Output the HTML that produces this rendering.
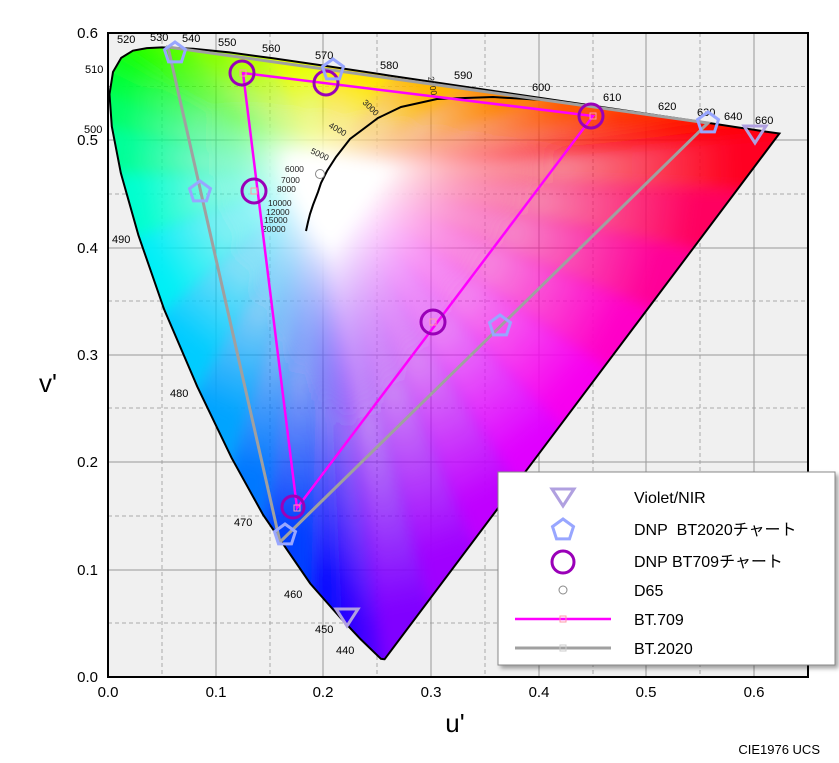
<!DOCTYPE html>
<html><head><meta charset="utf-8"><style>
body{margin:0;background:#fff;}
svg{display:block;font-family:"Liberation Sans","Noto Sans CJK JP",sans-serif;}
</style></head><body>
<svg id="s" width="839" height="763" viewBox="0 0 839 763" xmlns="http://www.w3.org/2000/svg">
<defs>
<clipPath id="lc"><path id="lp" d=""/></clipPath>
<filter id="bl" x="-20%" y="-20%" width="140%" height="140%"><feGaussianBlur stdDeviation="7"/></filter>
<filter id="sh" x="-10%" y="-10%" width="130%" height="130%"><feDropShadow dx="3" dy="3" stdDeviation="2" flood-color="#000" flood-opacity="0.35"/></filter>
</defs>
<rect x="108" y="33" width="700" height="644" fill="#f0f0f0"/>
<g stroke="#aaa" stroke-width="1" stroke-dasharray="4,3">
<line x1="162" y1="33" x2="162" y2="677"/><line x1="270" y1="33" x2="270" y2="677"/><line x1="377" y1="33" x2="377" y2="677"/><line x1="485" y1="33" x2="485" y2="677"/><line x1="593" y1="33" x2="593" y2="677"/><line x1="700" y1="33" x2="700" y2="677"/>
<line x1="108" y1="86.5" x2="808" y2="86.5"/><line x1="108" y1="194" x2="808" y2="194"/><line x1="108" y1="301" x2="808" y2="301"/><line x1="108" y1="408" x2="808" y2="408"/><line x1="108" y1="516" x2="808" y2="516"/><line x1="108" y1="623" x2="808" y2="623"/>
</g>
<g stroke="#999" stroke-width="1">
<line x1="216" y1="33" x2="216" y2="677"/><line x1="323" y1="33" x2="323" y2="677"/><line x1="431" y1="33" x2="431" y2="677"/><line x1="539" y1="33" x2="539" y2="677"/><line x1="646" y1="33" x2="646" y2="677"/><line x1="754" y1="33" x2="754" y2="677"/>
<line x1="108" y1="140" x2="808" y2="140"/><line x1="108" y1="248" x2="808" y2="248"/><line x1="108" y1="355" x2="808" y2="355"/><line x1="108" y1="462" x2="808" y2="462"/><line x1="108" y1="570" x2="808" y2="570"/>
</g>
<g clip-path="url(#lc)"><g id="fan" filter="url(#bl)"></g></g>
<path id="lo" d="" fill="none" stroke="#000" stroke-width="2"/>
<polyline points="306,231 308,222 310,214 313,205 318,192 321,183 327,171 336,157 350,139 378,118 401,107 437,99 493,97 560,101" fill="none" stroke="#000" stroke-width="2"/>
<circle cx="320" cy="174" r="4.5" fill="#fff" stroke="#888" stroke-width="1"/>
<g font-size="8.5" fill="#222">
<text x="262" y="232">20000</text><text x="264" y="223">15000</text><text x="266" y="215">12000</text><text x="268" y="206">10000</text><text x="277" y="192">8000</text><text x="281" y="183">7000</text><text x="285" y="172">6000</text>
<text x="310" y="153" transform="rotate(25 310 153)">5000</text><text x="328" y="127" transform="rotate(30 328 127)">4000</text><text x="362" y="103" transform="rotate(45 362 103)">3000</text><text x="428" y="77" transform="rotate(80 428 77)">2000</text>
</g>
<g font-size="11" fill="#000">
<text x="117" y="43">520</text><text x="150" y="41">530</text><text x="182" y="42">540</text><text x="218" y="46">550</text><text x="262" y="52">560</text><text x="315" y="59">570</text><text x="380" y="69">580</text><text x="454" y="79">590</text><text x="532" y="91">600</text><text x="603" y="101">610</text><text x="658" y="110">620</text><text x="697" y="116">630</text><text x="724" y="120">640</text><text x="755" y="124">660</text>
<text x="85" y="73">510</text><text x="84" y="133">500</text><text x="112" y="243">490</text><text x="170" y="397">480</text><text x="234" y="526">470</text><text x="284" y="598">460</text><text x="315" y="633">450</text><text x="336" y="654">440</text>
</g>
<polygon points="708,123 168,47 280,542" fill="none" stroke="#a0a0a0" stroke-width="3"/>
<polygon points="593,116 243,73 297,508" fill="none" stroke="#ff00ff" stroke-width="2.5"/>
<g fill="none" stroke="#f9a" stroke-width="1"><rect x="590" y="113" width="6" height="6"/><rect x="240" y="70" width="6" height="6"/><rect x="294" y="505" width="6" height="6"/><rect x="430" y="319" width="6" height="6"/><rect x="251" y="188" width="6" height="6"/></g>
<g fill="none" stroke="#9a00b8" stroke-width="3">
<circle cx="242" cy="73" r="12"/><circle cx="326" cy="83" r="12"/><circle cx="254" cy="191" r="12"/><circle cx="591" cy="116" r="12"/><circle cx="433" cy="322" r="12"/><circle cx="293" cy="507" r="11"/>
</g>
<g id="pent" fill="none" stroke="#98a6ff" stroke-width="3"></g>
<g fill="none" stroke="#b0a0e0" stroke-width="3">
<polygon points="744,126 766,126 755,143"/><polygon points="336,609 358,609 347,626"/>
</g>
<rect x="108" y="33" width="700" height="644" fill="none" stroke="#000" stroke-width="2"/>
<g font-size="15" fill="#000" text-anchor="middle">
<text x="108" y="697">0.0</text><text x="216" y="697">0.1</text><text x="323" y="697">0.2</text><text x="431" y="697">0.3</text><text x="539" y="697">0.4</text><text x="646" y="697">0.5</text><text x="754" y="697">0.6</text>
</g>
<g font-size="15" fill="#000" text-anchor="end">
<text x="98" y="682">0.0</text><text x="98" y="575">0.1</text><text x="98" y="467">0.2</text><text x="98" y="360">0.3</text><text x="98" y="253">0.4</text><text x="98" y="145">0.5</text><text x="98" y="38">0.6</text>
</g>
<text x="455" y="732" font-size="26" text-anchor="middle">u'</text>
<text x="48" y="392" font-size="26" text-anchor="middle">v'</text>
<text x="820" y="754" font-size="13" text-anchor="end">CIE1976 UCS</text>
<rect x="498" y="472" width="337" height="193" fill="#fff" stroke="#888" filter="url(#sh)"/>
<g font-size="16" fill="#000">
<text x="634" y="503">Violet/NIR</text><text x="634" y="535">DNP&#160;&#160;BT2020チャート</text><text x="634" y="567">DNP BT709チャート</text><text x="634" y="596">D65</text><text x="634" y="625">BT.709</text><text x="634" y="654">BT.2020</text>
</g>
<polygon points="552,489 574,489 563,506" fill="none" stroke="#b0a0e0" stroke-width="3"/>
<polygon id="lpent" fill="none" stroke="#98a6ff" stroke-width="3" points=""/>
<circle cx="563" cy="562" r="11" fill="none" stroke="#9a00b8" stroke-width="3"/>
<circle cx="563" cy="590" r="4" fill="#fff" stroke="#888"/>
<line x1="515" y1="619" x2="611" y2="619" stroke="#ff00ff" stroke-width="2.5"/><rect x="560" y="616" width="6" height="6" fill="none" stroke="#f9a"/>
<line x1="515" y1="648" x2="611" y2="648" stroke="#a0a0a0" stroke-width="3"/><rect x="560" y="645" width="6" height="6" fill="none" stroke="#ccc"/>
</svg>
<script>
var L=[[384.6,659.2,'#7000ff'],[380.9,658.8,'#6000ff'],[360.8,639.4,'#3c00ff'],[340.7,618.1,'#2000ff'],[310.2,583.5,'#0020ff'],[263.2,515,'#0060ff'],[231.5,457.7,'#0090ff'],[197.2,386.4,'#00b8ff'],[164.1,309.3,'#00e0ff'],[138.4,235.2,'#00ffee'],[120.8,172.9,'#00ffb0'],[111.8,126.4,'#00ff80'],[109.5,94.2,'#00ff50'],[113,72,'#00ff30'],[121.2,57.9,'#10ff10'],[132.9,50.7,'#20ff00'],[146.8,48.1,'#30ff00'],[162,47.4,'#40ff00'],[193.3,48.7,'#70ff00'],[229.4,52.4,'#a0ff00'],[272.9,58.3,'#d0ff00'],[326.2,66,'#ffff00'],[390.5,75.7,'#ffd000'],[465,86.7,'#ffa000'],[542.6,98.3,'#ff7000'],[613.3,108.7,'#ff4000'],[668.4,117,'#ff2000'],[707.4,122.8,'#ff1000'],[736,127.1,'#ff0500'],[754.7,129.9,'#ff0000'],[765.6,131.6,'#ff0000'],[779.4,133.5,'#ff0000']];
var pc=['#ff0000','#ff0040','#ff0080','#ff00b0','#ff00e0','#f000ff','#d000ff','#b000ff','#9000ff'];
var a=L[L.length-1],b=L[0];
for(var i=1;i<pc.length;i++){var t=i/pc.length;L.push([a[0]+(b[0]-a[0])*t,a[1]+(b[1]-a[1])*t,pc[i]]);}
var d='M'+L.slice(0,32).map(function(p){return p[0]+','+p[1]}).join(' L')+' Z';
var ns='http://www.w3.org/2000/svg';
document.getElementById('lp').setAttribute('d',d);
document.getElementById('lo').setAttribute('d',d);
var defs=document.querySelector('defs'),fan=document.getElementById('fan'),cx=321,cy=174;
function hx(c){return [parseInt(c.substr(1,2),16),parseInt(c.substr(3,2),16),parseInt(c.substr(5,2),16)];}
for(var i=0;i<L.length;i++){var p=L[i],q=L[(i+1)%L.length];
 var mx=(p[0]+q[0])/2,my=(p[1]+q[1])/2;var c1=hx(p[2]),c2=hx(q[2]);
 var col='rgb('+((c1[0]+c2[0])>>1)+','+((c1[1]+c2[1])>>1)+','+((c1[2]+c2[2])>>1)+')';
 var g=document.createElementNS(ns,'linearGradient');g.setAttribute('id','g'+i);g.setAttribute('gradientUnits','userSpaceOnUse');
 g.setAttribute('x1',cx);g.setAttribute('y1',cy);g.setAttribute('x2',mx);g.setAttribute('y2',my);
 g.innerHTML='<stop offset="0" stop-color="#fff"/><stop offset="0.15" stop-color="#fff"/><stop offset="0.55" stop-color="'+col+'" stop-opacity="0.45"/><stop offset="0.95" stop-color="'+col+'"/>';
 defs.appendChild(g);
 var pl=document.createElementNS(ns,'polygon');
 var ex=function(x,y){return (cx+(x-cx)*1.15)+','+(cy+(y-cy)*1.15)};
 pl.setAttribute('points',cx+','+cy+' '+ex(p[0],p[1])+' '+ex(q[0],q[1]));
 pl.setAttribute('fill','url(#g'+i+')');pl.setAttribute('stroke','url(#g'+i+')');pl.setAttribute('stroke-width','2');
 fan.appendChild(pl);}
function pent(x,y,r){var s=[];for(var k=0;k<5;k++){var an=-Math.PI/2+k*2*Math.PI/5;s.push((x+r*Math.cos(an)).toFixed(1)+','+(y+r*Math.sin(an)).toFixed(1));}return s.join(' ');}
var P=[[175,53],[333,70],[200,192],[708,123],[500,326],[285,535]],pg=document.getElementById('pent');
P.forEach(function(p){var e=document.createElementNS(ns,'polygon');e.setAttribute('points',pent(p[0],p[1],11));pg.appendChild(e);});
document.getElementById('lpent').setAttribute('points',pent(563,530,11));
</script>
</body></html>
